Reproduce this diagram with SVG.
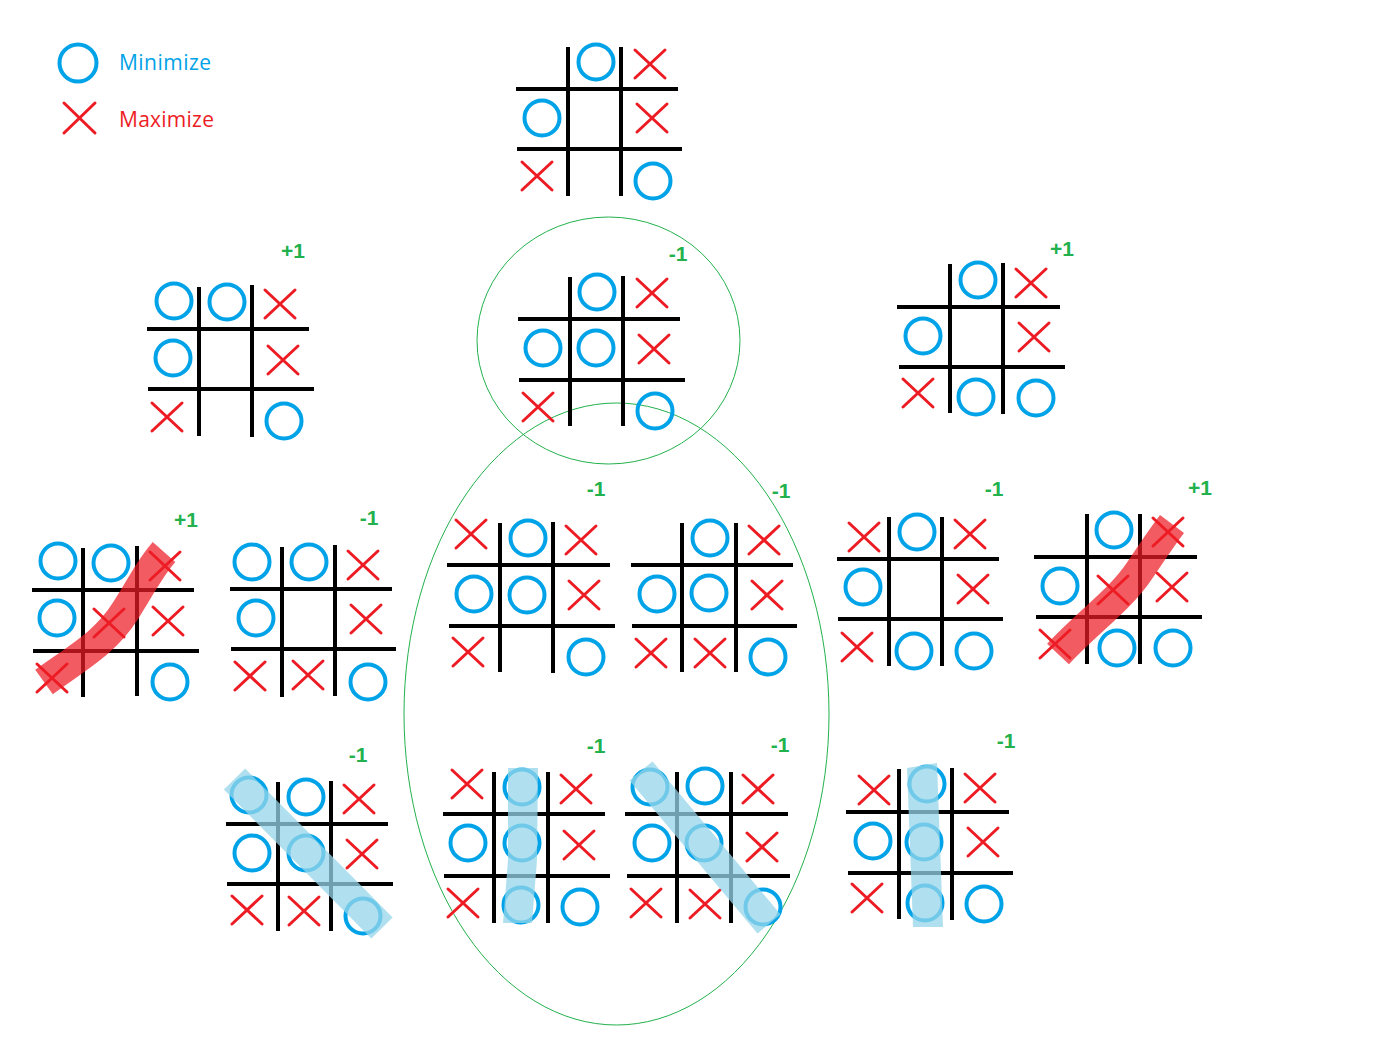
<svg xmlns="http://www.w3.org/2000/svg" xmlns:xlink="http://www.w3.org/1999/xlink" width="1392" height="1048" viewBox="0 0 1392 1048">
<style>
.grid{stroke:#000;stroke-width:4;fill:none}
.o{fill:none;stroke:#00A2E8;stroke-width:4}
.x{stroke:#ED1C24;stroke-width:3;stroke-linecap:round;fill:none}
.s{font-family:"Liberation Sans",Arial,sans-serif;font-weight:bold;font-size:21px;fill:#22B14C;text-anchor:middle}
.hr{stroke:#ED1C24;stroke-opacity:0.72;stroke-width:30;fill:none}
.hb{stroke:#95D5E9;stroke-opacity:0.75;stroke-width:30;fill:none}
.hbf{fill:#95D5E9;fill-opacity:0.75}
.ring{fill:none;stroke:#22B14C;stroke-width:1}
.leg{font-family:"Open Sans","Liberation Sans",sans-serif;font-size:21px}
</style>
<defs>
<circle id="O" r="17.5" class="o"/>
<path id="X" d="M-15,-14L15,14M15,-14L-15,14" class="x"/>
</defs>
<rect width="1392" height="1048" fill="#fff"/>

<g id="legend">
<circle cx="78" cy="63" r="18.5" class="o"/>
<path d="M64,103L95,133M95,103L64,133" class="x"/>
<text x="119" y="70" class="leg" fill="#00A2E8" textLength="92">Minimize</text>
<text x="119" y="127" class="leg" fill="#ED1C24" textLength="95">Maximize</text>
</g>

<g id="connectors">
<ellipse cx="608.5" cy="340.5" rx="131.5" ry="123.5" class="ring"/>
<ellipse cx="616.5" cy="714" rx="212.5" ry="311" class="ring"/>
</g>

<g id="board-root">
<path class="grid" d="M568,47V196M621,47V196M516,89H678M517,149H682"/>
<use xlink:href="#O" x="596" y="62"/><use xlink:href="#O" x="542" y="118"/><use xlink:href="#O" x="653" y="181"/>
<use xlink:href="#X" x="650" y="64"/><use xlink:href="#X" x="652" y="118"/><use xlink:href="#X" x="537" y="176"/>
</g>

<g id="board-left">
<path class="grid" d="M199,287V436M252,285V437M147,329H309M148,389H314"/>
<use xlink:href="#O" x="174" y="301"/><use xlink:href="#O" x="227" y="302"/><use xlink:href="#O" x="173" y="358"/><use xlink:href="#O" x="284" y="421"/>
<use xlink:href="#X" x="280" y="304"/><use xlink:href="#X" x="283" y="360"/><use xlink:href="#X" x="167" y="417"/>
<text x="293" y="258" class="s">+1</text>
</g>

<g id="board-center">
<path class="grid" d="M570,277V426M623,276V426M518,319H680M519,380H685"/>
<use xlink:href="#O" x="597" y="292"/><use xlink:href="#O" x="543" y="348"/><use xlink:href="#O" x="596" y="348"/><use xlink:href="#O" x="655" y="411"/>
<use xlink:href="#X" x="652" y="293"/><use xlink:href="#X" x="654" y="349"/><use xlink:href="#X" x="538" y="407"/>
<text x="678" y="261" class="s">-1</text>
</g>

<g id="board-right">
<path class="grid" d="M950,264V413M1003,263V414M897,307H1060M899,367H1065"/>
<use xlink:href="#O" x="978" y="280"/><use xlink:href="#O" x="923" y="336"/><use xlink:href="#O" x="976" y="397"/><use xlink:href="#O" x="1036" y="398"/>
<use xlink:href="#X" x="1031" y="283"/><use xlink:href="#X" x="1034" y="337"/><use xlink:href="#X" x="918" y="393"/>
<text x="1062" y="256" class="s">+1</text>
</g>

<g id="board-d">
<path class="grid" d="M83,548V697M137,546V696M32,590H194M33,651H199"/>
<use xlink:href="#O" x="58" y="561"/><use xlink:href="#O" x="111" y="563"/><use xlink:href="#O" x="57" y="618"/><use xlink:href="#O" x="170" y="682"/>
<use xlink:href="#X" x="165" y="566"/><use xlink:href="#X" x="109" y="623"/><use xlink:href="#X" x="168" y="621"/><use xlink:href="#X" x="52" y="678"/>
<path class="hr" d="M44,682C80,656 106,642 126,610S150,568 164,552"/>
<text x="186" y="527" class="s">+1</text>
</g>

<g id="board-e">
<path class="grid" d="M282,547V697M335,545V696M230,589H392M231,649H396"/>
<use xlink:href="#O" x="252" y="562"/><use xlink:href="#O" x="309" y="562"/><use xlink:href="#O" x="256" y="618"/><use xlink:href="#O" x="368" y="682"/>
<use xlink:href="#X" x="363" y="565"/><use xlink:href="#X" x="366" y="619"/><use xlink:href="#X" x="250" y="676"/><use xlink:href="#X" x="308" y="675"/>
<text x="369" y="525" class="s">-1</text>
</g>

<g id="board-f">
<path class="grid" d="M500,523V672M553,522V673M447,565H610M449,626H615"/>
<use xlink:href="#O" x="528" y="538"/><use xlink:href="#O" x="474" y="594"/><use xlink:href="#O" x="527" y="595"/><use xlink:href="#O" x="586" y="657"/>
<use xlink:href="#X" x="471" y="534"/><use xlink:href="#X" x="581" y="540"/><use xlink:href="#X" x="584" y="595"/><use xlink:href="#X" x="468" y="652"/>
<text x="596" y="496" class="s">-1</text>
</g>

<g id="board-g">
<path class="grid" d="M682,523V672M736,523V672M631,565H793M632,626H797"/>
<use xlink:href="#O" x="710" y="538"/><use xlink:href="#O" x="657" y="594"/><use xlink:href="#O" x="709" y="593"/><use xlink:href="#O" x="768" y="657"/>
<use xlink:href="#X" x="764" y="540"/><use xlink:href="#X" x="767" y="595"/><use xlink:href="#X" x="651" y="653"/><use xlink:href="#X" x="710" y="653"/>
<text x="781" y="498" class="s">-1</text>
</g>

<g id="board-h">
<path class="grid" d="M889,517V666M942,517V666M837,559H999M838,619H1003"/>
<use xlink:href="#O" x="917" y="532"/><use xlink:href="#O" x="863" y="587"/><use xlink:href="#O" x="914" y="651"/><use xlink:href="#O" x="974" y="651"/>
<use xlink:href="#X" x="864" y="537"/><use xlink:href="#X" x="970" y="534"/><use xlink:href="#X" x="973" y="589"/><use xlink:href="#X" x="857" y="647"/>
<text x="994" y="496" class="s">-1</text>
</g>

<g id="board-i">
<path class="grid" d="M1087,514V664M1140,514V664M1034,557H1197M1036,617H1202"/>
<use xlink:href="#O" x="1114" y="530"/><use xlink:href="#O" x="1060" y="586"/><use xlink:href="#O" x="1117" y="648"/><use xlink:href="#O" x="1173" y="648"/>
<use xlink:href="#X" x="1168" y="532"/><use xlink:href="#X" x="1113" y="590"/><use xlink:href="#X" x="1172" y="587"/><use xlink:href="#X" x="1055" y="644"/>
<path class="hr" d="M1058,654C1090,620 1120,600 1140,570S1160,540 1172,524"/>
<text x="1200" y="495" class="s">+1</text>
</g>

<g id="board-j">
<path class="grid" d="M278,782V931M331,781V931M226,824H388M227,884H393"/>
<use xlink:href="#O" x="249" y="795"/><use xlink:href="#O" x="306" y="797"/><use xlink:href="#O" x="252" y="853"/><use xlink:href="#O" x="306" y="853"/><use xlink:href="#O" x="363" y="916"/>
<use xlink:href="#X" x="359" y="799"/><use xlink:href="#X" x="362" y="854"/><use xlink:href="#X" x="247" y="910"/><use xlink:href="#X" x="304" y="911"/>
<path class="hb" d="M234.5,779L382,928"/>
<text x="358" y="762" class="s">-1</text>
</g>

<g id="board-k">
<path class="grid" d="M494,772V923M548,772V923M443,814H605M444,876H610"/>
<use xlink:href="#O" x="522" y="787"/><use xlink:href="#O" x="468" y="843"/><use xlink:href="#O" x="522" y="843"/><use xlink:href="#O" x="521" y="905"/><use xlink:href="#O" x="580" y="907"/>
<use xlink:href="#X" x="467" y="784"/><use xlink:href="#X" x="576" y="789"/><use xlink:href="#X" x="579" y="845"/><use xlink:href="#X" x="463" y="903"/>
<path class="hbf" d="M508,768L538,768L537,860L532,923L503,923L508,860Z"/>
<text x="596" y="753" class="s">-1</text>
</g>

<g id="board-l">
<path class="grid" d="M677,772V923M731,772V923M625,814H788M627,876H790"/>
<use xlink:href="#O" x="650" y="787"/><use xlink:href="#O" x="705" y="786"/><use xlink:href="#O" x="652" y="843"/><use xlink:href="#O" x="704" y="843"/><use xlink:href="#O" x="763" y="907"/>
<use xlink:href="#X" x="758" y="789"/><use xlink:href="#X" x="762" y="847"/><use xlink:href="#X" x="646" y="903"/><use xlink:href="#X" x="705" y="904"/>
<path class="hb" d="M641,771L769,924"/>
<text x="780" y="752" class="s">-1</text>
</g>

<g id="board-m">
<path class="grid" d="M899,769V919M952,768V920M846,812H1009M848,873H1013"/>
<use xlink:href="#O" x="927" y="784"/><use xlink:href="#O" x="873" y="841"/><use xlink:href="#O" x="924" y="842"/><use xlink:href="#O" x="925" y="903"/><use xlink:href="#O" x="984" y="904"/>
<use xlink:href="#X" x="874" y="790"/><use xlink:href="#X" x="980" y="788"/><use xlink:href="#X" x="983" y="842"/><use xlink:href="#X" x="867" y="898"/>
<path class="hbf" d="M907,768L937,763L943,927L913,927Z"/>
<text x="1006" y="748" class="s">-1</text>
</g>
</svg>
